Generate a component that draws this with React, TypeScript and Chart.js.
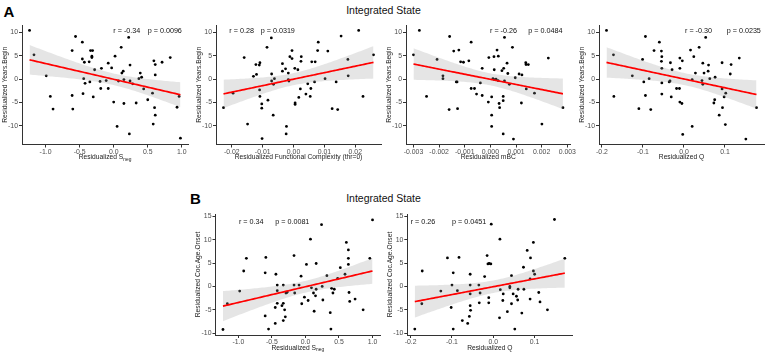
import React, { useEffect, useRef } from 'react';
import { Chart, registerables } from 'chart.js';

Chart.register(...registerables);

const FONT = "'Liberation Sans', Arial, Helvetica, sans-serif";

// ---------- Data: panel A (y = Residualized Years.Begin) ----------
const a1X = [-1.235,-1.17,-0.99,-0.93,-0.89,-0.61,-0.61,-0.60,-0.56,-0.46,-0.46,-0.44,-0.45,-0.43,-0.42,-0.36,-0.34,-0.31,-0.32,-0.32,-0.35,-0.30,-0.28,-0.20,-0.19,-0.18,-0.11,-0.08,-0.08,-0.03,0.0,0.02,0.05,0.07,0.11,0.12,0.14,0.15,0.15,0.23,0.24,0.24,0.22,0.28,0.33,0.37,0.39,0.41,0.44,0.50,0.57,0.58,0.59,0.61,0.61,0.60,0.61,0.71,0.83,0.93,0.96,0.98];
const a1Y = [10.4,5.2,0.7,-3.7,-6.4,6.1,-3.5,-6.4,9.1,7.9,4.3,0.1,-3.1,3.6,-0.9,3.7,6.1,6.1,4.6,4.9,-0.6,-3.8,2.0,-0.5,-2.0,2.3,-0.3,3.4,-2.0,2.4,-4.9,4.9,-10.1,-0.4,6.8,1.3,1.7,-0.1,-5.2,-11.7,3.0,-0.4,8.9,-1.0,-5.1,0.1,1.3,0.4,-2.1,-4.4,-3.0,-9.6,3.9,3.1,0.9,-6.1,-7.7,3.6,4.6,-6.0,-3.7,-12.6];

const a2X = [-0.0227,-0.0196,-0.016,-0.0149,-0.013,-0.0122,-0.012,-0.0111,-0.0109,-0.011,-0.0109,-0.0103,-0.0103,-0.0102,-0.0086,-0.0083,-0.0072,-0.0071,-0.0071,-0.0066,-0.0062,-0.0065,-0.0036,-0.0036,-0.0026,-0.0024,-0.0023,-0.0017,-0.0017,-0.0015,-0.0012,-0.0005,-0.0005,0.0004,0.0005,0.0005,0.0014,0.0017,0.0022,0.0025,0.0024,0.0040,0.0046,0.0054,0.0056,0.0059,0.0068,0.0070,0.0078,0.0080,0.0102,0.0111,0.0125,0.0138,0.0143,0.0154,0.0176,0.0177,0.0211,0.0225,0.0259];
const a2Y = [-6.1,-3.0,4.6,-9.6,0.6,3.1,1.0,3.0,3.5,-2.3,-3.7,-5.3,-6.2,-12.7,6.8,-4.5,8.8,1.1,-0.4,-7.7,0.1,-1.1,3.3,1.7,2.2,-11.7,-10.1,1.3,-0.1,-0.4,4.8,6.1,4.4,2.3,-5.1,-5.4,2.0,-3.9,-2.1,4.8,3.8,-3.2,-1.0,-3.7,-2.0,3.7,-0.6,3.7,6.1,7.9,0.1,6.0,-6.3,-0.6,-6.5,9.2,4.2,0.7,10.4,-3.7,5.2];

const a3X = [-0.0030,-0.00277,-0.00249,-0.00208,-0.00185,-0.00185,-0.00161,-0.00159,-0.00143,-0.00133,-0.0013,-0.00128,-0.00123,-0.00116,-0.00105,-0.00084,-0.00075,-0.00075,-0.00062,-0.00054,-0.00039,-0.00032,-0.00032,-0.00008,-0.00006,0.00005,0.00005,0.00005,0.0001,0.00014,0.00015,0.00015,0.00022,0.00026,0.0003,0.00031,0.00034,0.00036,0.00045,0.0005,0.0005,0.0005,0.00052,0.00055,0.00055,0.00065,0.00068,0.00074,0.00086,0.0009,0.00097,0.00112,0.00121,0.00123,0.00138,0.00139,0.0014,0.00148,0.00172,0.00201,0.00226,0.00283];
const a3Y = [5.2,10.4,-3.7,4.2,0.7,0.1,-6.5,9.1,6.0,-0.6,-0.6,-6.3,6.2,3.7,3.6,3.9,7.9,-2.0,-2.0,-3.2,-0.8,2.3,-3.5,-4.9,4.6,-3.8,-7.7,-10.1,0.1,4.8,2.0,-0.1,0.0,6.2,-0.3,4.9,-5.2,-6.1,1.8,-3.7,-4.6,-11.7,2.3,8.9,-0.4,3.4,1.2,-1.1,6.8,-12.8,0.3,1.1,-5.1,0.9,3.5,3.1,-2.1,3.1,-3.0,-9.6,4.5,-6.1];

const a4X = [-0.189,-0.172,-0.171,-0.126,-0.110,-0.101,-0.098,-0.094,-0.094,-0.085,-0.081,-0.073,-0.060,-0.055,-0.055,-0.054,-0.054,-0.054,-0.054,-0.033,-0.034,-0.036,-0.031,-0.029,-0.018,-0.011,-0.010,-0.010,-0.010,-0.005,-0.004,-0.003,0.016,0.020,0.020,0.024,0.028,0.037,0.044,0.046,0.046,0.049,0.053,0.059,0.060,0.063,0.073,0.075,0.076,0.086,0.093,0.093,0.094,0.098,0.101,0.102,0.113,0.115,0.135,0.151,0.177];
const a4Y = [10.4,5.2,-3.7,0.7,-6.3,4.2,-0.6,9.1,-3.5,0.1,-6.5,6.1,7.9,6.0,3.8,4.8,2.3,-0.8,-3.2,3.5,-0.4,-0.6,-3.8,2.0,-2.0,-2.0,4.5,2.3,-4.9,-5.2,3.9,-11.8,6.2,-10.1,-0.1,4.8,1.3,6.8,-0.3,3.4,-1.1,1.3,8.9,1.7,3.0,0.1,-5.1,-4.4,0.4,-7.7,3.5,-2.1,-6.1,-3.8,-9.7,-3.0,1.1,3.1,4.5,-12.8,-6.1];

// ---------- Data: panel B (y = Residualized Coc.Age.Onset) ----------
const b1X = [-1.229,-1.164,-0.98,-0.92,-0.88,-0.60,-0.59,-0.60,-0.55,-0.44,-0.45,-0.45,-0.42,-0.42,-0.42,-0.35,-0.33,-0.33,-0.33,-0.31,-0.30,-0.28,-0.29,-0.27,-0.17,-0.17,-0.16,-0.095,-0.065,-0.055,-0.015,0.015,0.04,0.075,0.09,0.12,0.13,0.15,0.16,0.16,0.24,0.25,0.26,0.32,0.37,0.38,0.39,0.41,0.43,0.48,0.52,0.59,0.61,0.64,0.64,0.64,0.65,0.66,0.74,0.86,0.96,1.00];
const b1Y = [-9.2,-3.7,-1.0,3.3,6.0,2.9,6.2,-6.3,-9.1,2.6,-4.5,-7.9,0.3,-0.9,-3.6,-4.1,0.3,-3.6,-7.3,-5.0,-6.5,-1.3,-1.4,-1.2,6.6,0.3,-1.4,0.3,2.2,-3.7,-2.3,4.7,-3.0,10.1,-0.3,-1.4,-5.3,-2.0,4.9,-0.6,13.2,0.0,-2.9,2.3,-5.6,-9.1,-0.4,-1.4,-0.6,1.7,4.0,2.6,9.4,7.8,6.0,4.7,-1.3,-3.2,-2.7,-5.0,6.0,14.2];

const b2X = [-0.190,-0.173,-0.172,-0.127,-0.111,-0.102,-0.100,-0.097,-0.097,-0.087,-0.083,-0.075,-0.062,-0.058,-0.056,-0.055,-0.056,-0.056,-0.056,-0.035,-0.034,-0.032,-0.021,-0.015,-0.013,-0.010,-0.006,-0.011,-0.011,-0.005,0.016,0.015,0.017,0.023,0.024,0.034,0.040,0.040,0.044,0.044,0.048,0.052,0.056,0.059,0.060,0.069,0.073,0.074,0.082,0.089,0.090,0.089,0.097,0.097,0.100,0.110,0.113,0.131,0.148,0.173];
const b2Y = [-9.1,-3.7,3.3,-1.0,6.1,-4.5,0.3,2.9,-9.1,-0.9,6.2,-7.3,-7.9,-6.4,-4.1,-5.1,2.6,0.3,-1.6,0.3,-3.5,-1.4,2.1,6.6,4.8,4.9,4.8,-3.5,-2.4,13.3,10.1,-6.7,-0.7,-3.0,-1.6,-5.4,-0.3,0.0,-3.7,2.3,-1.6,-9.1,-2.1,-2.9,-0.6,-5.7,4.1,-0.6,7.7,-2.7,6.1,1.6,9.4,3.3,2.6,-1.3,-3.3,-5.0,14.3,6.0];

// ---------- Labels & ticks ----------
const rLabels = ['r = -0.34', 'r = 0.28', 'r = -0.26', 'r = -0.30', 'r = 0.34', 'r = 0.26'];
const pLabels = ['p = 0.0096', 'p = 0.0319', 'p = 0.0484', 'p = 0.0235', 'p = 0.0081', 'p = 0.0451'];
const yTitles = ['Residualized Years.Begin', 'Residualized Coc.Age.Onset'];
const xTitles = ['Residualized S', 'Residualized Functional Complexity (thr=0)', 'Residualized mBC', 'Residualized Q'];
const xSubs = ['neg', '', '', ''];

const sNegTicks = [-1, -0.5, 0, 0.5, 1];
const sNegTickLabels = ['-1.0', '-0.5', '0.0', '0.5', '1.0'];
const fcTicks = [-0.02, -0.01, 0, 0.01, 0.02];
const fcTickLabels = ['-0.02', '-0.01', '0.00', '0.01', '0.02'];
const mbcTicks = [-0.003, -0.002, -0.001, 0, 0.001, 0.002, 0.003];
const mbcTickLabels = ['-0.003', '-0.002', '-0.001', '0.000', '0.001', '0.002', '0.003'];
const qTicks = [-0.2, -0.1, 0, 0.1];
const qTickLabels = ['-0.2', '-0.1', '0.0', '0.1'];
const yTicksA = [-10, -5, 0, 5, 10];
const yTicksB = [-10, -5, 0, 5, 10, 15];

const mainTitle = 'Integrated State';

// ---------- helpers ----------
function expandRange(vals: number[]): [number, number] {
  const mn = Math.min(...vals);
  const mx = Math.max(...vals);
  const pad = (mx - mn) * 0.05;
  return [mn - pad, mx + pad];
}

function regression(xs: number[], ys: number[]) {
  const n = xs.length;
  const mx = xs.reduce((s, v) => s + v, 0) / n;
  const my = ys.reduce((s, v) => s + v, 0) / n;
  let sxx = 0, sxy = 0;
  for (let i = 0; i < n; i++) {
    sxx += (xs[i] - mx) ** 2;
    sxy += (xs[i] - mx) * (ys[i] - my);
  }
  const b = sxy / sxx;
  const a = my - b * mx;
  let sse = 0;
  for (let i = 0; i < n; i++) sse += (ys[i] - a - b * xs[i]) ** 2;
  const s = Math.sqrt(sse / (n - 2));
  const t = 2.0;
  const xmin = Math.min(...xs), xmax = Math.max(...xs);
  const line: { x: number; y: number }[] = [];
  const up: { x: number; y: number }[] = [];
  const lo: { x: number; y: number }[] = [];
  const steps = 80;
  for (let k = 0; k <= steps; k++) {
    const x = xmin + ((xmax - xmin) * k) / steps;
    const yh = a + b * x;
    const se = s * Math.sqrt(1 / n + (x - mx) ** 2 / sxx);
    line.push({ x, y: yh });
    up.push({ x, y: yh + t * se });
    lo.push({ x, y: yh - t * se });
  }
  return { line, up, lo };
}

type PanelCfg = {
  xs: number[];
  ys: number[];
  yRange: [number, number];
  xTicks: number[];
  xTickLabels: string[];
  yTicks: number[];
  xTitle: string;
  xSub: string;
  yTitle: string;
  r: string;
  p: string;
  left: number;
  top: number;
  width: number;
  height: number;
  rDx: number;
  pDx: number;
  annDy: number;
};

const yRangeA = expandRange([...a1Y, ...a2Y, ...a3Y, ...a4Y]);
const yRangeB = expandRange([...b1Y, ...b2Y]);

const panels: PanelCfg[] = [
  { xs: a1X, ys: a1Y, yRange: yRangeA, xTicks: sNegTicks, xTickLabels: sNegTickLabels, yTicks: yTicksA, xTitle: xTitles[0], xSub: xSubs[0], yTitle: yTitles[0], r: rLabels[0], p: pLabels[0], left: 22, top: 25, width: 166, height: 119.5, rDx: 91.3, pDx: 125.7, annDy: 5.7 },
  { xs: a2X, ys: a2Y, yRange: yRangeA, xTicks: fcTicks, xTickLabels: fcTickLabels, yTicks: yTicksA, xTitle: xTitles[1], xSub: xSubs[1], yTitle: yTitles[0], r: rLabels[1], p: pLabels[1], left: 216, top: 25, width: 165, height: 119.5, rDx: 13.3, pDx: 44.7, annDy: 5.7 },
  { xs: a3X, ys: a3Y, yRange: yRangeA, xTicks: mbcTicks, xTickLabels: mbcTickLabels, yTicks: yTicksA, xTitle: xTitles[2], xSub: xSubs[2], yTitle: yTitles[0], r: rLabels[2], p: pLabels[2], left: 406, top: 25, width: 165.5, height: 119.5, rDx: 84, pDx: 122.3, annDy: 5.7 },
  { xs: a4X, ys: a4Y, yRange: yRangeA, xTicks: qTicks, xTickLabels: qTickLabels, yTicks: yTicksA, xTitle: xTitles[3], xSub: xSubs[3], yTitle: yTitles[0], r: rLabels[3], p: pLabels[3], left: 599, top: 25, width: 165, height: 119.5, rDx: 86, pDx: 127.7, annDy: 5.7 },
  { xs: b1X, ys: b1Y, yRange: yRangeB, xTicks: sNegTicks, xTickLabels: sNegTickLabels, yTicks: yTicksB, xTitle: xTitles[0], xSub: xSubs[0], yTitle: yTitles[1], r: rLabels[4], p: pLabels[4], left: 215.5, top: 214, width: 164.5, height: 121, rDx: 23.4, pDx: 59.7, annDy: 8.3 },
  { xs: b2X, ys: b2Y, yRange: yRangeB, xTicks: qTicks, xTickLabels: qTickLabels, yTicks: yTicksB, xTitle: xTitles[3], xSub: xSubs[3], yTitle: yTitles[1], r: rLabels[5], p: pLabels[5], left: 407.3, top: 214, width: 165, height: 121, rDx: 3.4, pDx: 44.7, annDy: 8.3 },
];

const PAD_L = 24, PAD_T = 6, PAD_R = 4, PAD_B = 20;
const TICK_SIZE = 6.9;
const AXIS_TITLE_SIZE = 6.7;
const ANN_SIZE = 7.2;
const AXIS_COLOR = '#333333';

function makeTextPlugin(cfg: PanelCfg) {
  return {
    id: 'panelText',
    afterDraw(chart: any) {
      const { ctx, chartArea: a } = chart;
      // y title
      ctx.save();
      ctx.fillStyle = '#1a1a1a';
      ctx.font = `${AXIS_TITLE_SIZE}px ${FONT}`;
      ctx.textAlign = 'center';
      ctx.textBaseline = 'middle';
      ctx.translate(a.left - 17, (a.top + a.bottom) / 2);
      ctx.rotate(-Math.PI / 2);
      ctx.fillText(cfg.yTitle, 0, 0);
      ctx.restore();
      // x title (with optional subscript)
      ctx.save();
      ctx.fillStyle = '#1a1a1a';
      ctx.textBaseline = 'middle';
      ctx.textAlign = 'left';
      ctx.font = `${AXIS_TITLE_SIZE}px ${FONT}`;
      const wMain = ctx.measureText(cfg.xTitle).width;
      const subSize = AXIS_TITLE_SIZE * 0.72;
      ctx.font = `${subSize}px ${FONT}`;
      const wSub = cfg.xSub ? ctx.measureText(cfg.xSub).width : 0;
      const cx = (a.left + a.right) / 2;
      const ty = a.bottom + 13;
      const x0 = cx - (wMain + wSub) / 2;
      ctx.font = `${AXIS_TITLE_SIZE}px ${FONT}`;
      ctx.fillText(cfg.xTitle, x0, ty);
      if (cfg.xSub) {
        ctx.font = `${subSize}px ${FONT}`;
        ctx.fillText(cfg.xSub, x0 + wMain, ty + 1.8);
      }
      ctx.restore();
      // annotations
      ctx.save();
      ctx.fillStyle = '#111111';
      ctx.font = `${ANN_SIZE}px ${FONT}`;
      ctx.textAlign = 'left';
      ctx.textBaseline = 'middle';
      ctx.fillText(cfg.r, a.left + cfg.rDx, a.top + cfg.annDy);
      ctx.fillText(cfg.p, a.left + cfg.pDx, a.top + cfg.annDy);
      ctx.restore();
    },
  };
}

function Panel({ cfg }: { cfg: PanelCfg }) {
  const ref = useRef<HTMLCanvasElement>(null);
  const cLeft = Math.floor(cfg.left) - PAD_L;
  const cTop = Math.floor(cfg.top) - PAD_T;
  const right = cfg.left + cfg.width;
  const bottom = cfg.top + cfg.height;
  const cW = Math.ceil(right) + PAD_R - cLeft;
  const cH = Math.ceil(bottom) + PAD_B - cTop;
  const yScaleW = cfg.left - cLeft;
  const padTop = cfg.top - cTop;
  const padRight = cW - (right - cLeft);
  const xScaleH = cH - (bottom - cTop);

  useEffect(() => {
    const canvas = ref.current;
    if (!canvas) return;
    const fitRes = regression(cfg.xs, cfg.ys);
    const xRange = expandRange(cfg.xs);
    const pts = cfg.xs.map((x, i) => ({ x, y: cfg.ys[i] }));
    const bandColor = 'rgba(153,153,153,0.26)';
    const chart = new Chart(canvas, {
      type: 'scatter',
      data: {
        datasets: [
          {
            type: 'line',
            data: fitRes.line,
            borderColor: '#ff0000',
            borderWidth: 1.7,
            pointRadius: 0,
            fill: false,
          } as any,
          {
            type: 'line',
            data: fitRes.up,
            borderColor: 'rgba(0,0,0,0)',
            borderWidth: 0,
            pointRadius: 0,
            backgroundColor: bandColor,
            fill: '+1',
          } as any,
          {
            type: 'line',
            data: fitRes.lo,
            borderColor: 'rgba(0,0,0,0)',
            borderWidth: 0,
            pointRadius: 0,
            fill: false,
          } as any,
          {
            type: 'scatter',
            data: pts,
            pointRadius: 1.4,
            pointBackgroundColor: '#000000',
            pointBorderWidth: 0,
            pointBorderColor: '#000000',
          } as any,
        ],
      },
      options: {
        animation: false,
        responsive: false,
        events: [],
        layout: { autoPadding: false, padding: { left: 0, top: padTop, right: padRight, bottom: 0 } },
        plugins: { legend: { display: false }, tooltip: { enabled: false } },
        scales: {
          x: {
            type: 'linear',
            min: xRange[0],
            max: xRange[1],
            afterBuildTicks: (s: any) => {
              s.ticks = cfg.xTicks.map((v) => ({ value: v }));
            },
            afterFit: (s: any) => {
              s.height = xScaleH;
            },
            ticks: {
              autoSkip: false,
              maxRotation: 0,
              padding: 0,
              color: '#4d4d4d',
              font: { family: FONT, size: TICK_SIZE },
              callback: (_v: any, i: number) => cfg.xTickLabels[i],
            },
            grid: { display: true, drawOnChartArea: false, drawTicks: true, tickLength: 3, color: AXIS_COLOR, lineWidth: 1 },
            border: { display: true, color: AXIS_COLOR, width: 1 },
          },
          y: {
            type: 'linear',
            min: cfg.yRange[0],
            max: cfg.yRange[1],
            afterBuildTicks: (s: any) => {
              s.ticks = cfg.yTicks.map((v) => ({ value: v }));
            },
            afterFit: (s: any) => {
              s.width = yScaleW;
            },
            ticks: {
              autoSkip: false,
              padding: 1,
              color: '#4d4d4d',
              font: { family: FONT, size: TICK_SIZE },
              callback: (v: any) => String(v),
            },
            grid: { display: true, drawOnChartArea: false, drawTicks: true, tickLength: 3, color: AXIS_COLOR, lineWidth: 1 },
            border: { display: true, color: AXIS_COLOR, width: 1 },
          },
        },
      } as any,
      plugins: [makeTextPlugin(cfg)],
    });
    return () => chart.destroy();
  }, []);

  return (
    <canvas
      ref={ref}
      width={cW}
      height={cH}
      style={{ position: 'absolute', left: cLeft, top: cTop, width: cW, height: cH }}
    />
  );
}

export default function App() {
  const titleStyle: React.CSSProperties = {
    position: 'absolute',
    left: 283.5,
    width: 200,
    textAlign: 'center',
    font: `10.5px ${FONT}`,
    lineHeight: '10px',
    color: '#111',
    whiteSpace: 'nowrap',
  };
  const letterStyle: React.CSSProperties = {
    position: 'absolute',
    font: `bold 15px ${FONT}`,
    lineHeight: '15px',
    color: '#000',
  };
  return (
    <div
      style={{
        position: 'absolute',
        left: 0,
        top: 0,
        width: 767,
        height: 353,
        overflow: 'hidden',
        background: '#fff',
      }}
    >
      <div style={{ ...letterStyle, left: 3.5, top: 4.2 }}>A</div>
      <div style={{ ...letterStyle, left: 190, top: 190.9 }}>B</div>
      <div style={{ ...titleStyle, top: 5.3 }}>{mainTitle}</div>
      <div style={{ ...titleStyle, top: 192.5 }}>{mainTitle}</div>
      {panels.map((p, i) => (
        <Panel key={i} cfg={p} />
      ))}
    </div>
  );
}
